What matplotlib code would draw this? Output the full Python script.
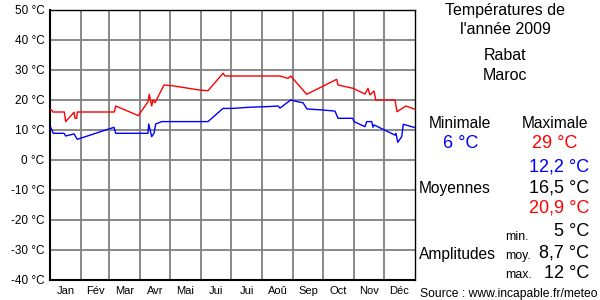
import matplotlib
matplotlib.use("Agg")
import matplotlib.pyplot as plt

plt.rcParams['font.family'] = ['Liberation Sans', 'DejaVu Sans']

# daily max temperature (day of year, °C)
max_days = [0.7, 3, 14.3, 15.7, 24, 25, 26.7, 27.3, 64.3, 65.7, 88.3, 98, 99.3, 101.7, 103, 105, 114,
            123.3, 150, 158, 173, 175, 230, 238, 240.7, 256.7, 286.7, 288, 303, 315, 318, 320, 324,
            325.7, 345, 347, 356, 365]
max_vals = [16.9, 16, 16, 12.8, 15.9, 13.9, 13.9, 16, 16, 18, 14.8, 19.4, 21.9, 18, 20, 19.1, 25,
            24.7, 23.3, 23.1, 28.9, 28, 28, 27.2, 28, 21.9, 26.9, 25, 23.9, 22, 23.9, 21.7, 23,
            20, 20, 16.1, 18, 16.9]

# daily min temperature
min_days = [0.7, 3.3, 14, 15.7, 24, 27.3, 64, 65.7, 98, 98.7, 101.7, 104, 105.7, 111.7, 158, 173,
            183, 200, 218, 228, 230, 240.7, 248, 253, 257, 271.7, 285, 288, 302.7, 304, 315, 316.7,
            321.7, 323, 324, 345, 346, 347.7, 351.7, 353.3, 365]
min_vals = [10.9, 8.9, 8.9, 8, 8.7, 6.9, 10.9, 8.9, 8.9, 12, 7.8, 8.9, 12, 12.8, 12.8, 17.2,
            17.2, 17.6, 17.8, 18, 17.3, 20, 19.4, 19.1, 17, 16.7, 16.3, 13.9, 13.9, 12.8, 11.1, 12.8,
            12.8, 10.9, 11.7, 8.3, 8.9, 5.9, 7.8, 11.9, 10.8]

month_starts = [0, 31, 59, 90, 120, 151, 181, 212, 243, 273, 304, 334, 365]
month_names = ['Jan', 'Fév', 'Mar', 'Avr', 'Mai', 'Jui', 'Jui', 'Aoû', 'Sep', 'Oct', 'Nov', 'Déc']
y_ticks = [50, 40, 30, 20, 10, 0, -10, -20, -30, -40]

fig = plt.figure(figsize=(6, 3), dpi=100)
ax = fig.add_axes([50/600, 20/300, 365/600, 270/300])
ax.set_xlim(0, 365)
ax.set_ylim(-40, 50)

for d in month_starts[1:-1]:
    ax.axvline(d, color='#808080', lw=1.3, zorder=1)
for t in y_ticks[1:-1]:
    ax.axhline(t, color='#808080', lw=1.3, zorder=1)

ax.plot(max_days, max_vals, color='#ff0000', lw=1, zorder=3)
ax.plot(min_days, min_vals, color='#0000ff', lw=1, zorder=3)

ax.set_yticks(y_ticks)
ax.set_yticklabels(['%d °C' % t for t in y_ticks], fontsize=8.5)
mids = [(month_starts[i] + month_starts[i+1]) / 2 for i in range(12)]
ax.set_xticks(mids)
ax.set_xticklabels(month_names, fontsize=8)
ax.tick_params(length=0, pad=4)
for s in ['left', 'bottom']:
    ax.spines[s].set_linewidth(1.5)
for s in ['top', 'right']:
    ax.spines[s].set_linewidth(1)

def tx(x, y, s, size=11.2, color='black', ha='center'):
    fig.text(x/600, 1 - y/300, s, fontsize=size, color=color, ha=ha, va='center')

tx(505, 10, 'Températures de', size=11.5)
tx(505, 30, "l'année 2009", size=11.5)
tx(505, 55, 'Rabat', size=11.5)
tx(505, 75, 'Maroc', size=11.5)
tx(460, 124, 'Minimale')
tx(555, 124, 'Maximale')
tx(461, 143, '6 °C', size=13, color='#0000ff')
tx(555, 143, '29 °C', size=13, color='#ff0000')
tx(589, 167, '12,2 °C', size=13, color='#0000ff', ha='right')
tx(589, 188, '16,5 °C', size=13, ha='right')
tx(589, 208, '20,9 °C', size=13, color='#ff0000', ha='right')
tx(419, 188, 'Moyennes', ha='left')
tx(589, 232, '5 °C', size=13, ha='right')
tx(589, 253, '8,7 °C', size=13, ha='right')
tx(589, 273, '12 °C', size=13, ha='right')
tx(505, 237, 'min.', size=8.8, ha='left')
tx(505, 256, 'moy.', size=8.8, ha='left')
tx(505, 275, 'max.', size=8.8, ha='left')
tx(419, 254, 'Amplitudes', ha='left')
tx(420, 294, 'Source : www.incapable.fr/meteo', size=8.7, ha='left')

fig.savefig('out.png', dpi=100)
